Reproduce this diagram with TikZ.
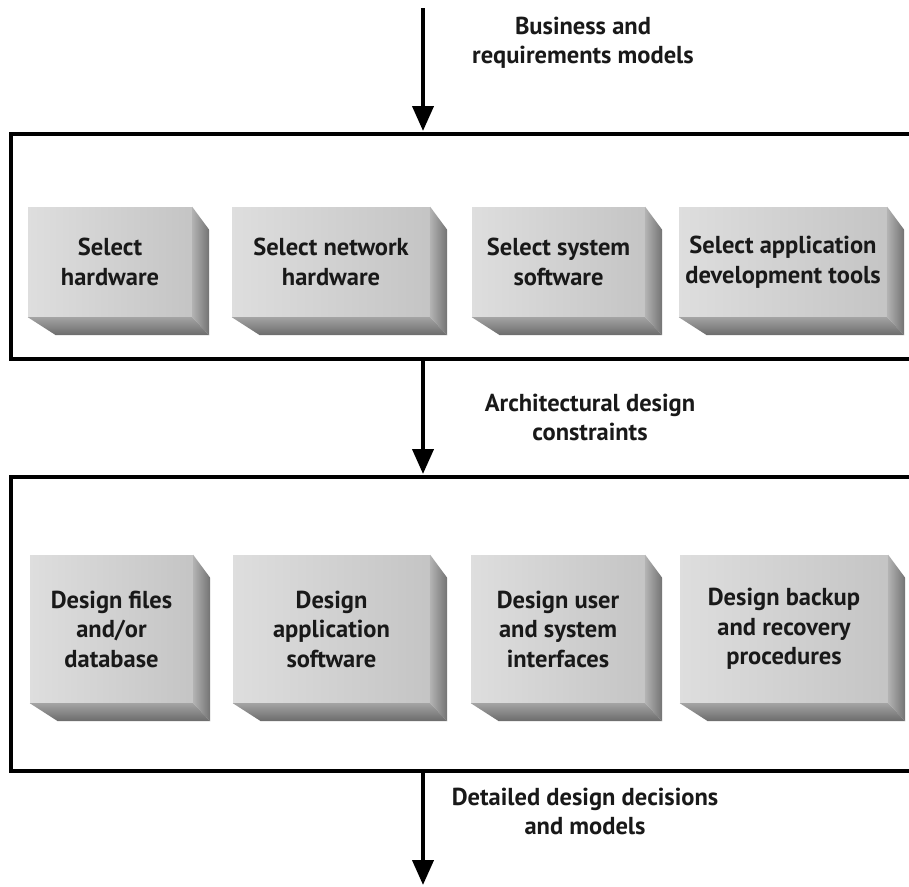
\documentclass[tikz,border=0pt]{standalone}
\usepackage{fontspec}
\setmainfont{PT Sans}
\usetikzlibrary{calc,arrows.meta}
\definecolor{ink}{gray}{0.1}
\definecolor{frontA}{gray}{0.87}
\definecolor{frontB}{gray}{0.77}
\definecolor{sideA}{gray}{0.70}
\definecolor{sideB}{gray}{0.45}
\definecolor{botA}{gray}{0.64}
\definecolor{botB}{gray}{0.42}
\newcommand\mycube[5]{%
  \node[face, minimum width=#3pt, minimum height=#4pt] (#1) at (#2) {#5};
  \shade[left color=sideA, right color=sideB]
    (#1.north east) -- ($(#1.north east)+(17,23)$) -- ($(#1.south east)+(17,18)$) -- (#1.south east) -- cycle;
  \shade[top color=botA, bottom color=botB]
    (#1.south west) -- (#1.south east) -- ($(#1.south east)+(17,18)$) -- ($(#1.south west)+(28,18)$) -- cycle;
}
\begin{document}
\begin{tikzpicture}[x=1pt,y=-1pt,
  frame/.style={draw=black, line width=4pt, inner sep=0pt, anchor=north west},
  face/.style={inner sep=0pt, shading=axis, shading angle=60, left color=frontA, right color=frontB,
    font=\fontsize{24.5}{29.5}\selectfont\bfseries, align=center, text=ink},
  flow/.style={line width=4pt, draw=black, -{Triangle[length=25pt,width=21pt]}},
  lbl/.style={font=\fontsize{24.5}{29}\selectfont\bfseries, align=center, text=ink}]
\clip (0,0) rectangle (909,886);
\fill[white] (0,0) rectangle (909,886);

\node[frame, minimum width=940pt, minimum height=225pt] (stage1) at (9,132) {};
\node[frame, minimum width=940pt, minimum height=294pt] (stage2) at (9,475) {};

\mycube{b1}{110,262}{164}{110}{Select\\hardware}
\mycube{b2}{331,262}{198}{110}{Select network\\hardware}
\mycube{b3}{558.5,262}{173}{110}{Select system\\software}
\mycube{b4}{783,262}{208}{110}{Select application\\development tools}

\mycube{c1}{111.5,629}{163}{148}{Design files\\and/or\\database}
\mycube{c2}{331.5,629}{197}{148}{Design\\application\\software}
\mycube{c3}{558,629}{174}{148}{Design user\\and system\\interfaces}
\mycube{c4}{784,629}{208}{148}{Design backup\\and recovery\\procedures}

\coordinate (in) at (423,8);
\coordinate (out) at (423,885);
\draw[flow] (in) -- ($(in |- stage1.north)+(0,-1)$);
\draw[flow] (in |- stage1.south) -- ($(in |- stage2.north)+(0,-1)$);
\draw[flow] (in |- stage2.south) -- (out);

\node[lbl] (l1) at (583,43) {Business and\\requirements models};
\node[lbl] (l2) at (590,417) {Architectural design\\constraints};
\node[lbl] (l3) at (585,811) {Detailed design decisions\\and models};
\end{tikzpicture}
\end{document}
